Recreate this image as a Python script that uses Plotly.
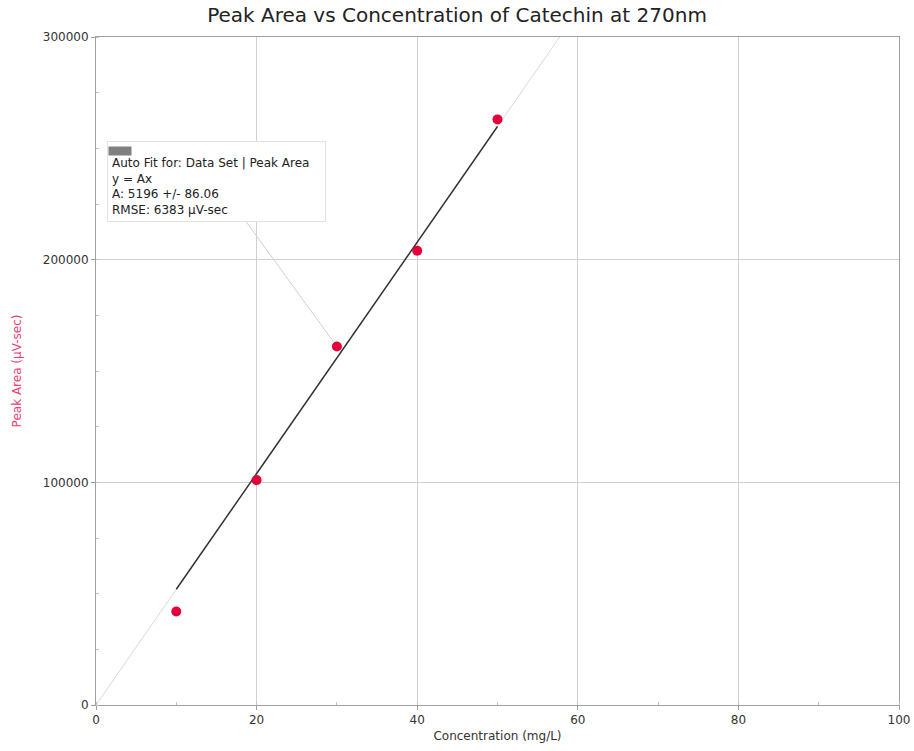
import plotly.graph_objects as go

concentration = [10, 20, 30, 40, 50]
peak_area = [42000, 101000, 161000, 204000, 263000]
fit_A = 5196
fit_x = [10, 50]
ext_x = [0, 100]
title = "Peak Area vs Concentration of Catechin at 270nm"
x_title = "Concentration (mg/L)"
y_title = "Peak Area (µV-sec)"
fit_lines = ["Auto Fit for: Data Set | Peak Area", "y = Ax", "A: 5196 +/- 86.06", "RMSE: 6383 µV-sec"]

FONT = "DejaVu Sans, Arial"

fig = go.Figure()
fig.add_trace(go.Scatter(x=ext_x, y=[fit_A * v for v in ext_x], mode="lines",
                         line=dict(color="#d8d8d8", width=1), hoverinfo="skip"))
fig.add_trace(go.Scatter(x=fit_x, y=[fit_A * v for v in fit_x], mode="lines",
                         line=dict(color="#333333", width=1.5), hoverinfo="skip"))
fig.add_trace(go.Scatter(x=concentration, y=peak_area, mode="markers",
                         marker=dict(color="#e3003a", size=10)))

fig.add_annotation(x=concentration[2], y=peak_area[2], xref="x", yref="y",
                   text="<br>".join(fit_lines), align="left", valign="bottom",
                   showarrow=True, arrowhead=0, arrowcolor="#d0d0d0", arrowwidth=1,
                   ax=-120, ay=-165, standoff=6,
                   width=209, height=71, borderpad=4,
                   bordercolor="#e2e2e2", borderwidth=1, bgcolor="white",
                   font=dict(size=12, color="#222222", family=FONT))
fig.add_annotation(x=concentration[2], y=peak_area[2], xref="x", yref="y",
                   text=" ", showarrow=False, width=22, height=8, borderpad=0,
                   bgcolor="#808080", font=dict(size=2),
                   xshift=-217, yshift=196)

fig.update_layout(
    width=914, height=751,
    margin=dict(l=96, r=15, t=37, b=46),
    plot_bgcolor="white", paper_bgcolor="white",
    showlegend=False,
    font=dict(family=FONT, color="#333333", size=11),
    title=dict(text=title, x=0.5, xanchor="center", y=0.99, yanchor="top",
               font=dict(size=20, color="#222222")),
)
fig.update_xaxes(range=[0, 100], dtick=20, showgrid=True, gridcolor="#d0d0d0", gridwidth=1,
                 showline=True, linecolor="#a0a0a0", linewidth=1, mirror=True,
                 ticks="outside", ticklen=4, tickcolor="#a0a0a0", zeroline=False,
                 automargin=False,
                 minor=dict(dtick=10, ticks="inside", ticklen=3, tickcolor="#c0c0c0", showgrid=False),
                 title=dict(text=x_title, font=dict(size=12, color="#333333"), standoff=5),
                 tickfont=dict(size=12, color="#333333"))
fig.update_yaxes(range=[0, 300000], dtick=100000, tickformat="d", showgrid=True,
                 gridcolor="#d0d0d0", gridwidth=1,
                 showline=True, linecolor="#a0a0a0", linewidth=1, mirror=True,
                 ticks="outside", ticklen=4, tickcolor="#a0a0a0", zeroline=False,
                 automargin=False,
                 minor=dict(dtick=25000, ticks="inside", ticklen=3, tickcolor="#c0c0c0", showgrid=False),
                 title=dict(text=y_title, font=dict(size=12, color="#f03c6e"), standoff=18),
                 tickfont=dict(size=12, color="#333333"))

fig.write_html("out.html")
